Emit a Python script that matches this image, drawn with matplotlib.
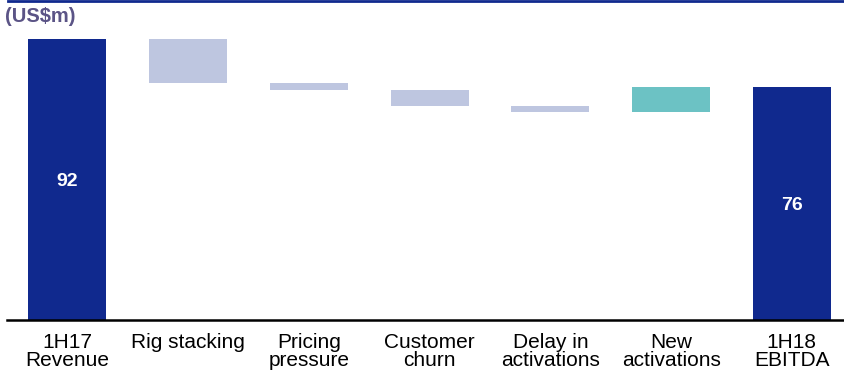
import matplotlib
matplotlib.use("Agg")
import matplotlib.pyplot as plt
from matplotlib.lines import Line2D

categories = ["1H17\nRevenue", "Rig stacking", "Pricing\npressure", "Customer\nchurn",
              "Delay in\nactivations", "New\nactivations", "1H18\nEBITDA"]
changes = [92, -14.5, -2.2, -5.3, -2.0, 8.3, 76.3]
kinds = ["total", "down", "down", "down", "down", "up", "total"]
total_labels = {0: "92", 6: "76"}

navy = "#10298E"
light = "#BEC6E0"
teal = "#6CC2C4"

plt.rcParams["font.family"] = ["Liberation Sans", "DejaVu Sans"]

fig = plt.figure(figsize=(8.45, 3.74), dpi=100)
ax = fig.add_axes([7/845, 1 - 320/374, 1 - 7/845, (320 - 14.6)/374])

running = 0
for i, (v, k) in enumerate(zip(changes, kinds)):
    if k == "total":
        bottom, height, col = 0, v, navy
        running = v
    elif k == "down":
        bottom, height, col = running + v, -v, light
        running += v
    else:
        bottom, height, col = running, v, teal
        running += v
    ax.bar(i, height, bottom=bottom, width=0.645, color=col, linewidth=0)
    if i in total_labels:
        ax.text(i, v / 2 - 0.5, total_labels[i], ha="center", va="center",
                color="white", fontsize=14, fontweight="bold")

ax.set_xlim(-0.5, 6.44)
ax.set_ylim(0, 100)
ax.set_xticks(range(len(categories)))
ax.set_xticklabels(categories, fontsize=15, linespacing=1.0)
ax.tick_params(axis="x", length=0, pad=9)
ax.set_yticks([])
for s in ["top", "right", "left"]:
    ax.spines[s].set_visible(False)
ax.spines["bottom"].set_linewidth(1.8)
ax.spines["bottom"].set_color("black")

fig.add_artist(Line2D([8/845, 1], [1 - 1/374, 1 - 1/374], color=navy, linewidth=2,
                      transform=fig.transFigure))
fig.text(5/845, 1 - 16.5/374, "(US$m)", fontsize=14.5, fontweight="bold", color="#5B5486",
         ha="left", va="center")

fig.savefig("out.png", dpi=100)
